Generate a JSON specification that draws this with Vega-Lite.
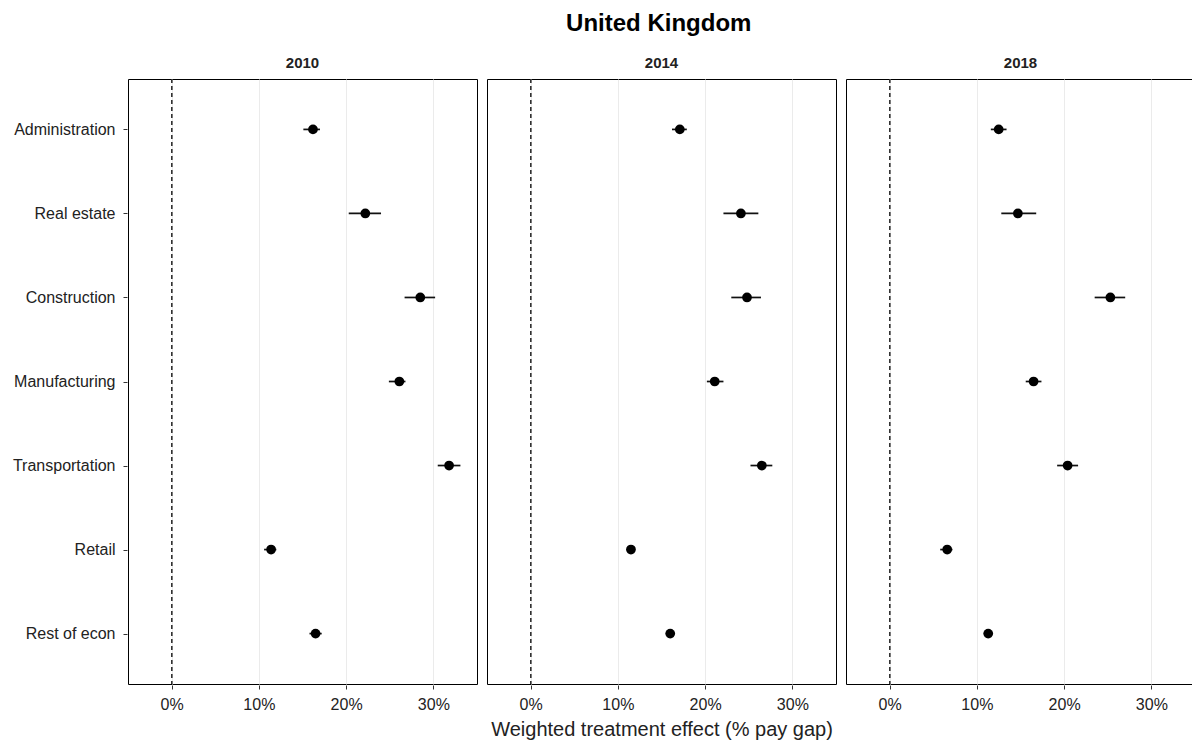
{
  "$schema": "https://vega.github.io/schema/vega-lite/v6.json",
  "background": "white",
  "padding": {"left": 0, "top": 12, "right": 0, "bottom": 0},
  "title": {"text": "United Kingdom", "fontSize": 24, "fontWeight": "bold", "font": "Liberation Sans", "color": "black", "anchor": "middle", "offset": 20, "dx": 61},
  "data": {"values": [
    {"year": "2010", "sector": "Administration", "est": 16.2, "lo": 15.1, "hi": 17.0},
    {"year": "2010", "sector": "Real estate", "est": 22.2, "lo": 20.3, "hi": 24.0},
    {"year": "2010", "sector": "Construction", "est": 28.5, "lo": 26.7, "hi": 30.2},
    {"year": "2010", "sector": "Manufacturing", "est": 26.1, "lo": 24.9, "hi": 26.8},
    {"year": "2010", "sector": "Transportation", "est": 31.8, "lo": 30.5, "hi": 33.1},
    {"year": "2010", "sector": "Retail", "est": 11.4, "lo": 10.6, "hi": 12.0},
    {"year": "2010", "sector": "Rest of econ", "est": 16.5, "lo": 15.8, "hi": 17.2},
    {"year": "2014", "sector": "Administration", "est": 17.1, "lo": 16.2, "hi": 17.9},
    {"year": "2014", "sector": "Real estate", "est": 24.1, "lo": 22.1, "hi": 26.1},
    {"year": "2014", "sector": "Construction", "est": 24.8, "lo": 23.0, "hi": 26.4},
    {"year": "2014", "sector": "Manufacturing", "est": 21.1, "lo": 20.2, "hi": 22.1},
    {"year": "2014", "sector": "Transportation", "est": 26.5, "lo": 25.2, "hi": 27.7},
    {"year": "2014", "sector": "Retail", "est": 11.5, "lo": 11.0, "hi": 11.9},
    {"year": "2014", "sector": "Rest of econ", "est": 16.0, "lo": 15.5, "hi": 16.5},
    {"year": "2018", "sector": "Administration", "est": 12.5, "lo": 11.6, "hi": 13.4},
    {"year": "2018", "sector": "Real estate", "est": 14.7, "lo": 12.8, "hi": 16.8},
    {"year": "2018", "sector": "Construction", "est": 25.3, "lo": 23.5, "hi": 27.0},
    {"year": "2018", "sector": "Manufacturing", "est": 16.5, "lo": 15.6, "hi": 17.4},
    {"year": "2018", "sector": "Transportation", "est": 20.4, "lo": 19.2, "hi": 21.6},
    {"year": "2018", "sector": "Retail", "est": 6.6, "lo": 5.8, "hi": 7.2},
    {"year": "2018", "sector": "Rest of econ", "est": 11.3, "lo": 10.8, "hi": 11.8}
  ]},
  "facet": {"column": {"field": "year", "type": "ordinal", "header": {"title": "Weighted treatment effect (% pay gap)", "titleOrient": "bottom", "titleFontSize": 20, "titleFont": "Liberation Sans", "titleFontWeight": "normal", "titleColor": "#222", "titlePadding": -2, "labelOrient": "top", "labelFontSize": 15, "labelFontWeight": "bold", "labelFont": "Liberation Sans", "labelColor": "#222", "labelPadding": 7}}},
  "spacing": 8,
  "spec": {
    "width": 349,
    "height": 605,
    "layer": [
      {"mark": {"type": "rule", "strokeDash": [4, 3], "color": "#333", "strokeWidth": 1}, "encoding": {"x": {"datum": 0, "type": "quantitative"}}},
      {"mark": {"type": "rule", "color": "#111", "strokeWidth": 1.7}, "encoding": {
        "y": {"field": "sector", "type": "nominal", "sort": ["Administration", "Real estate", "Construction", "Manufacturing", "Transportation", "Retail", "Rest of econ"]},
        "x": {"field": "lo", "type": "quantitative"},
        "x2": {"field": "hi"}
      }},
      {"mark": {"type": "point", "filled": true, "color": "black", "size": 95, "opacity": 1}, "encoding": {
        "y": {"field": "sector", "type": "nominal", "sort": ["Administration", "Real estate", "Construction", "Manufacturing", "Transportation", "Retail", "Rest of econ"], "scale": {"type": "point", "padding": 0.6}, "title": null,
          "axis": {"grid": false, "domain": false, "ticks": true, "tickSize": 4, "tickColor": "#333", "labelFontSize": 16, "labelFont": "Liberation Sans", "labelColor": "#222", "labelPadding": 8, "minExtent": 127, "maxExtent": 127}},
        "x": {"field": "est", "type": "quantitative", "scale": {"domain": [-5, 35], "nice": false}, "title": null,
          "axis": {"values": [0, 10, 20, 30], "labelExpr": "datum.value + '%'", "grid": true, "gridColor": "#EBEBEB", "domain": false, "ticks": true, "tickSize": 4, "tickColor": "#333", "labelFontSize": 16, "labelFont": "Liberation Sans", "labelColor": "#222", "labelPadding": 7}}
      }}
    ]
  },
  "config": {"view": {"stroke": "black", "strokeWidth": 1}}
}
